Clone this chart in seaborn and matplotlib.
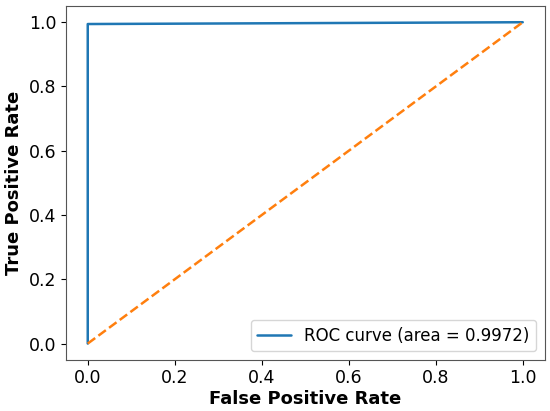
import seaborn as sns
import matplotlib.pyplot as plt

# === ROC data ===
fpr = [0.0, 0.0, 1.0]
tpr = [0.0, 0.9944, 1.0]
chance_x = [0.0, 1.0]
chance_y = [0.0, 1.0]
roc_auc = 0.9972

sns.set_style("ticks", {"text.color": "black", "axes.labelcolor": "black",
                        "xtick.color": "black", "ytick.color": "black"})
plt.rcParams["font.family"] = ["DejaVu Sans"]

fig, ax = plt.subplots(figsize=(5.5, 4.11), dpi=100)
sns.lineplot(x=fpr, y=tpr, ax=ax, color="#1f77b4", lw=1.8, sort=False,
             estimator=None, label=f"ROC curve (area = {roc_auc:.4f})")
sns.lineplot(x=chance_x, y=chance_y, ax=ax, color="#ff7f0e", lw=1.8,
             linestyle="--", estimator=None)

ax.set_xlim(-0.05, 1.05)
ax.set_ylim(-0.05, 1.05)
ax.set_xticks([0, 0.2, 0.4, 0.6, 0.8, 1.0])
ax.set_yticks([0, 0.2, 0.4, 0.6, 0.8, 1.0])
ax.tick_params(labelsize=12.5)
ax.set_xlabel("False Positive Rate", fontsize=13, fontweight="bold", labelpad=2)
ax.set_ylabel("True Positive Rate", fontsize=13, fontweight="bold")
for s in ax.spines.values():
    s.set_visible(True)
    s.set_color("#555555")
ax.legend(loc="lower right", fontsize=12)

fig.subplots_adjust(left=0.12, right=0.99, top=0.985, bottom=0.125)
fig.savefig("out.png", dpi=100)
